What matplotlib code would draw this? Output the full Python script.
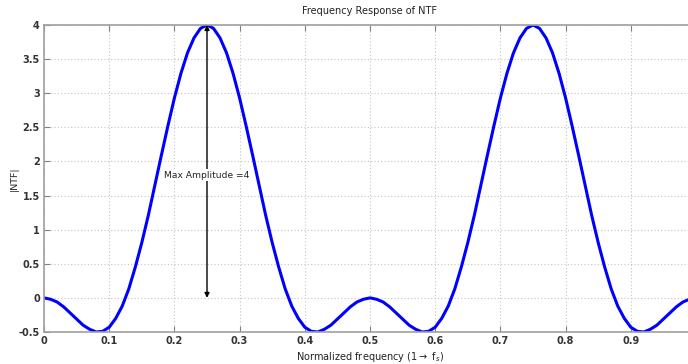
import numpy as np
import matplotlib
matplotlib.use("Agg")
import matplotlib.pyplot as plt

# normalized frequency, step 0.01
freq = np.round(np.arange(0, 101) * 0.01, 2)
ntf = [0.00, -0.02, -0.06, -0.13, -0.22, -0.31, -0.40, -0.46, -0.50, -0.49,
       -0.43, -0.30, -0.12, 0.13, 0.45, 0.81, 1.21, 1.65, 2.09, 2.52,
       2.93, 3.29, 3.59, 3.81, 3.95, 4.00, 3.95, 3.81, 3.59, 3.29,
       2.93, 2.52, 2.09, 1.65, 1.21, 0.81, 0.45, 0.13, -0.12, -0.30,
       -0.43, -0.49, -0.50, -0.46, -0.40, -0.31, -0.22, -0.13, -0.06, -0.02,
       0.00, -0.02, -0.06, -0.13, -0.22, -0.31, -0.40, -0.46, -0.50, -0.49,
       -0.43, -0.30, -0.12, 0.13, 0.45, 0.81, 1.21, 1.65, 2.09, 2.52,
       2.93, 3.29, 3.59, 3.81, 3.95, 4.00, 3.95, 3.81, 3.59, 3.29,
       2.93, 2.52, 2.09, 1.65, 1.21, 0.81, 0.45, 0.13, -0.12, -0.30,
       -0.43, -0.49, -0.50, -0.46, -0.40, -0.31, -0.22, -0.13, -0.06, -0.02,
       0.00]
# the tick at 1 falls outside the cropped picture
xticks = [0, 0.1, 0.2, 0.3, 0.4, 0.5, 0.6, 0.7, 0.8, 0.9]
xticklabels = ["0", "0.1", "0.2", "0.3", "0.4", "0.5", "0.6", "0.7", "0.8", "0.9"]
yticks = [-0.5, 0, 0.5, 1, 1.5, 2, 2.5, 3, 3.5, 4]
yticklabels = ["-0.5", "0", "0.5", "1", "1.5", "2", "2.5", "3", "3.5", "4"]
peak_x = 0.25
peak_y = 4

W, H = 688, 364
fig = plt.figure(figsize=(W / 100, H / 100), dpi=100)
# axes run past the right edge of the picture (cropped like the original)
ax = fig.add_axes([44 / W, 1 - 332 / H, 652 / W, 307 / H])

ax.plot(freq, ntf, color="#0000ff", lw=2.2, solid_joinstyle="round",
        solid_capstyle="round")
ax.set_xlim(0, 1)
ax.set_ylim(-0.5, 4)
ax.set_xticks(xticks)
ax.set_xticklabels(xticklabels)
ax.set_yticks(yticks)
ax.set_yticklabels(yticklabels)
ax.grid(True, ls=(0, (1, 2)), color="#c4c4c4", lw=0.8)
ax.tick_params(direction="in", top=True, right=False, length=4, color="#808080",
               labelsize=7, labelcolor="#333333", pad=3)
for lab in ax.get_xticklabels() + ax.get_yticklabels():
    lab.set_fontweight("bold")
for s in ax.spines.values():
    s.set_color("#a0a0a0")
    s.set_linewidth(1.2)

ax.annotate("", xy=(peak_x, peak_y), xytext=(peak_x, 0),
            arrowprops=dict(arrowstyle="<|-|>", color="black", lw=1.0,
                            mutation_scale=7, shrinkA=0, shrinkB=0))
ax.text(peak_x, 1.8, "Max Amplitude =4", fontsize=6.6, ha="center", va="center",
        color="#222222", bbox=dict(facecolor="white", edgecolor="none", pad=1.0))

ax.set_title("Frequency Response of NTF", fontsize=7, color="#222222", pad=8)
ax.set_ylabel("|NTF|", fontsize=6.8, color="#222222", labelpad=0)
ax.set_xlabel("Normalized frequency (1$\\rightarrow$ f$_s$)", fontsize=7,
              color="#222222", labelpad=3)

fig.savefig("out.png", dpi=100)
